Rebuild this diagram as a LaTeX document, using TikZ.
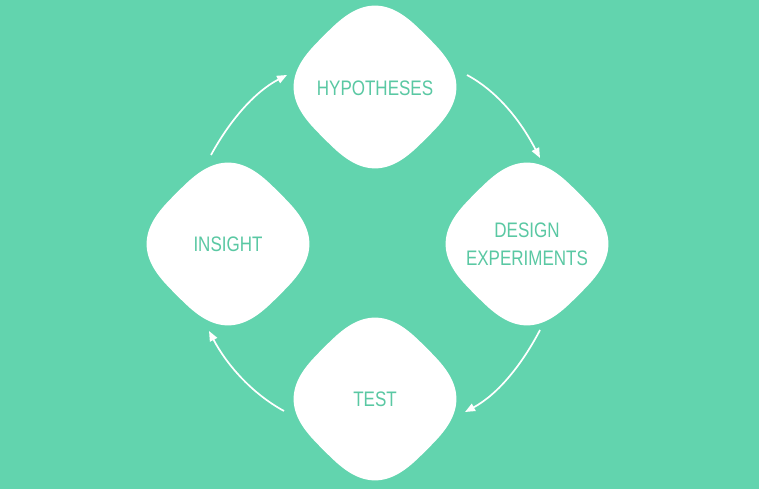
\documentclass[tikz,border=0pt]{standalone}
\usepackage{fontspec}
\setmainfont{Liberation Sans}[FakeStretch=0.81]
\usetikzlibrary{arrows.meta,calc}
\definecolor{mint}{RGB}{98,212,174}
\definecolor{minttext}{RGB}{90,200,163}
% superellipse (exponent 3) with half-width #1, turned by 45 degrees
\newcommand{\squircle}[2]{%
  \fill[white, shift={(#1)}, rotate=45]
    plot[domain=1:359, samples=180, variable=\t]
      ({#2*sign(cos(\t))*pow(abs(cos(\t)),2/3)},
       {#2*sign(sin(\t))*pow(abs(sin(\t)),2/3)}) -- cycle;}
\begin{document}
\begin{tikzpicture}[x=1pt,y=1pt,
  caption/.style={text=minttext, font=\fontsize{21}{28}\selectfont,
                  align=center, inner sep=0pt},
  flow/.style={draw=white, line width=1.7pt,
               -{Triangle[length=10pt,width=8pt]}, looseness=0.87}]
% background
\fill[mint] (0,0) rectangle (759,489);
\useasboundingbox (0,0) rectangle (759,489);

% centres of the four stages
\coordinate (hyp)  at (375,402);
\coordinate (des)  at (527,245);
\coordinate (test) at (375,90);
\coordinate (ins)  at (228,245);

% rounded diamonds
\squircle{hyp}{72.5}
\squircle{des}{72.5}
\squircle{test}{72.5}
\squircle{ins}{72.5}

% captions
\node[caption] (hyptext)  at ($(hyp)+(0,-1)$)  {HYPOTHESES};
\node[caption] (destext)  at ($(des)+(0,0)$)   {DESIGN\\EXPERIMENTS};
\node[caption] (testtext) at ($(test)+(0,0)$)  {TEST};
\node[caption] (instext)  at ($(ins)+(0,0)$)   {INSIGHT};

% cycle arrows
\draw[flow] ($(hyp)+(92,12)$)   to[out=-28.4, in=117.5] ($(des)+(13,86)$);
\draw[flow] ($(des)+(13,-86)$)  to[out=-117.5, in=28.2] ($(test)+(90,-13)$);
\draw[flow] ($(test)+(-91,-12)$) to[out=151.4, in=-62.3] ($(ins)+(-19,-87)$);
\draw[flow] ($(ins)+(-17,89)$)  to[out=61.5, in=207.5] ($(hyp)+(-88,12)$);
\end{tikzpicture}
\end{document}
